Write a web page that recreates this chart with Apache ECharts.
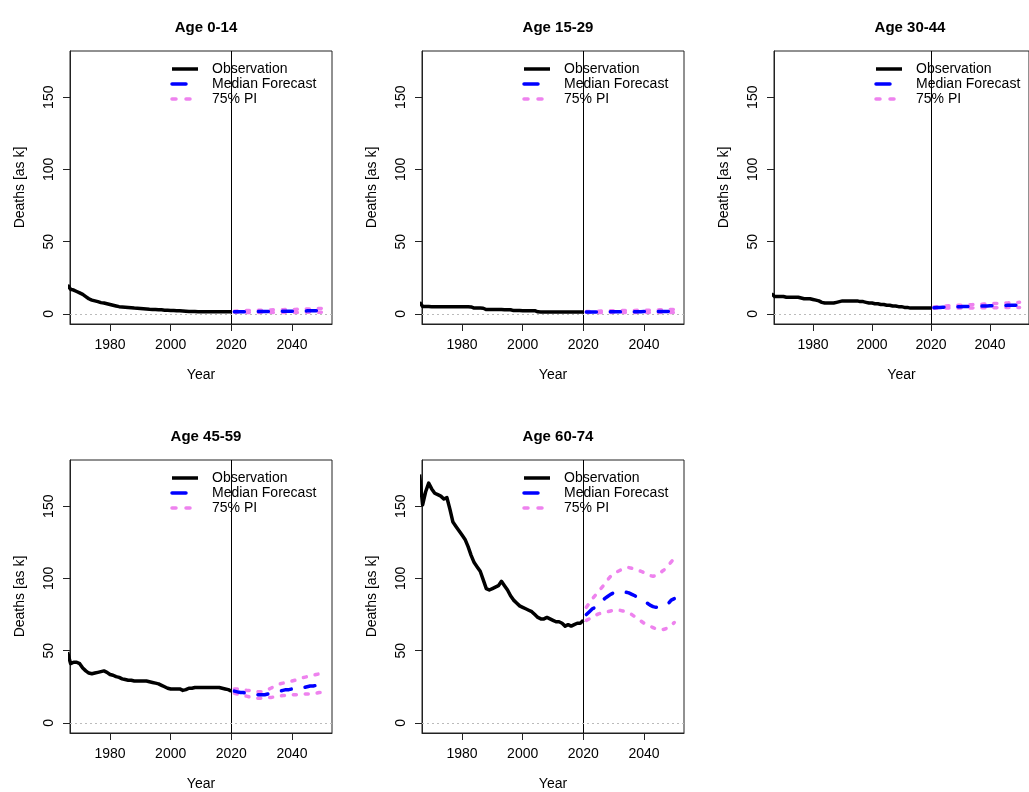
<!DOCTYPE html>
<html>
<head>
<meta charset="utf-8">
<title>Deaths by age group</title>
<script src="https://cdn.jsdelivr.net/npm/echarts@6.0.0/dist/echarts.min.js"></script>
<style>
html,body{margin:0;padding:0;background:#fff;}
#container{width:1029px;height:792px;}
</style>
</head>
<body>
<div id="container"></div>
<script>
// panel titles
var ageGroups = ['Age 0-14', 'Age 15-29', 'Age 30-44', 'Age 45-59', 'Age 60-74'];
var legendNames = ['Observation', 'Median Forecast', '75% PI'];
var xTicks = [1980, 2000, 2020, 2040];
var yTicks = [0, 50, 100, 150];

// observed deaths (thousands), 1966-2020
var obs0_14 = [20, 17, 16.5, 15.5, 14.5, 13.5, 12, 10.5, 9.5, 9,
	8.5, 7.8, 7.5, 7, 6.5, 6, 5.5, 5, 4.8, 4.6,
	4.4, 4.2, 4, 3.9, 3.8, 3.6, 3.4, 3.2, 3.1, 3,
	2.9, 2.8, 2.6, 2.5, 2.4, 2.3, 2.2, 2.1, 2, 1.8,
	1.6, 1.6, 1.6, 1.5, 1.5, 1.5, 1.5, 1.5, 1.5, 1.5,
	1.5, 1.5, 1.5, 1.5, 1.5];
var obs15_29 = [8, 5.2, 5.1, 5.1, 5, 5, 5, 5, 5, 5,
	5, 5, 5, 5, 5, 4.9, 4.9, 4.8, 4, 4,
	4, 3.9, 3, 3, 3, 3, 3, 3, 2.9, 2.9,
	2.9, 2.3, 2.3, 2.3, 2.2, 2.2, 2.2, 2.2, 2.2, 1.4,
	1.3, 1.3, 1.3, 1.3, 1.3, 1.3, 1.3, 1.3, 1.3, 1.3,
	1.3, 1.3, 1.3, 1.3, 1.3];
var obs30_44 = [14, 12, 12, 12, 12, 11.5, 11.5, 11.5, 11.5, 11.5,
	11, 10.5, 10.5, 10.5, 10, 9.5, 9, 8, 7.5, 7.5,
	7.5, 7.5, 8, 8.5, 9, 9, 9, 9, 9, 9,
	8.5, 8.5, 8, 7.5, 7.5, 7, 7, 6.5, 6.5, 6,
	6, 5.5, 5.5, 5, 5, 4.5, 4.5, 4, 4, 4,
	4, 4, 4, 4, 4];
var obs45_59 = [49, 41, 42, 42, 41, 38, 36, 34.5, 34, 34.5,
	35, 35.5, 36, 35, 33.5, 33, 32, 31.5, 30.5, 30,
	29.5, 29.5, 29, 29, 29, 29, 29, 28.5, 28, 27.5,
	27, 26, 25, 24, 23.5, 23.5, 23.5, 23.5, 22.5, 23,
	24, 24, 24.5, 24.5, 24.5, 24.5, 24.5, 24.5, 24.5, 24.5,
	24.5, 24, 23.5, 23, 22];
var obs60_74 = [172, 151, 160, 166, 162, 159, 158, 157, 155, 156,
	148, 139, 136, 133, 130, 127, 122, 116, 111, 108,
	105, 99, 93, 92, 93, 94, 95, 98, 95, 92,
	88, 85, 83, 81, 80, 79, 78, 77, 75, 73,
	72, 72, 73, 72, 71, 70, 70, 69, 67, 68,
	67, 68, 69, 69, 71];

// forecasts 2021-2050: median, upper and lower 75% PI
var med0_14 = [1.5, 1.5, 1.5, 1.5, 1.5, 1.5, 1.6, 1.6, 1.6, 1.6, 1.7, 1.7, 1.7, 1.7, 1.8, 1.8, 1.8, 1.8, 1.9, 1.9, 1.9, 2.0, 2.0, 2.0, 2.1, 2.1, 2.2, 2.2, 2.3, 2.3];
var up0_14 = [1.9, 2.0, 2.1, 2.2, 2.3, 2.3, 2.4, 2.5, 2.5, 2.6, 2.6, 2.7, 2.7, 2.8, 2.8, 2.9, 2.9, 3.0, 3.0, 3.1, 3.1, 3.2, 3.2, 3.3, 3.4, 3.4, 3.5, 3.6, 3.7, 3.8];
var lo0_14 = [1.2, 1.1, 1.1, 1.1, 1.0, 1.0, 1.0, 1.0, 1.0, 1.0, 1.0, 1.0, 1.0, 1.0, 1.0, 1.0, 1.0, 1.0, 1.0, 1.0, 1.0, 1.0, 1.1, 1.1, 1.1, 1.1, 1.1, 1.1, 1.2, 1.2];

var med15_29 = [1.3, 1.3, 1.3, 1.3, 1.3, 1.4, 1.4, 1.4, 1.4, 1.4, 1.4, 1.4, 1.5, 1.5, 1.5, 1.5, 1.5, 1.5, 1.5, 1.6, 1.6, 1.6, 1.6, 1.6, 1.7, 1.7, 1.7, 1.7, 1.8, 1.8];
var up15_29 = [1.6, 1.7, 1.8, 1.9, 1.9, 2, 2, 2.1, 2.1, 2.2, 2.2, 2.2, 2.3, 2.3, 2.3, 2.4, 2.4, 2.5, 2.5, 2.5, 2.6, 2.6, 2.7, 2.7, 2.8, 2.8, 2.9, 2.9, 3, 3];
var lo15_29 = [1.1, 1.0, 1.0, 1.0, 1.0, 0.9, 0.9, 0.9, 0.9, 0.9, 0.9, 0.9, 0.9, 0.9, 0.9, 0.9, 0.9, 0.9, 0.9, 0.9, 0.9, 0.9, 0.9, 0.9, 0.9, 0.9, 0.9, 0.9, 0.9, 0.9];

var med30_44 = [4.3, 4.4, 4.5, 4.6, 4.7, 4.7, 4.8, 4.9, 5, 5, 5.1, 5.2, 5.2, 5.3, 5.3, 5.4, 5.4, 5.5, 5.5, 5.6, 5.6, 5.7, 5.7, 5.8, 5.8, 5.9, 5.9, 6, 6, 6.1];
var up30_44 = [4.8, 5, 5.2, 5.3, 5.5, 5.6, 5.7, 5.8, 5.9, 6, 6.1, 6.2, 6.3, 6.4, 6.5, 6.6, 6.7, 6.8, 6.9, 7, 7.1, 7.2, 7.3, 7.4, 7.5, 7.6, 7.7, 7.8, 7.9, 8];
var lo30_44 = [3.9, 3.9, 3.9, 3.9, 4, 4, 4, 4, 4, 4, 4.1, 4.1, 4.1, 4.1, 4.2, 4.2, 4.2, 4.2, 4.3, 4.3, 4.3, 4.3, 4.4, 4.4, 4.4, 4.4, 4.5, 4.5, 4.5, 4.5];

var med45_59 = [22, 21.5, 21, 21, 20.5, 20, 19.5, 19.5, 19.5, 19.5, 19.5, 20, 20.5, 21, 21.5, 22, 22.5, 23, 23, 23.5, 23.5, 24, 24, 24.5, 25, 25.5, 25.5, 26, 26, 26];
var up45_59 = [23.5, 23.5, 23, 23, 22.5, 22.5, 22, 22, 21.5, 21.5, 22, 23, 24, 25, 26, 27, 27.5, 28, 28.5, 29, 29.5, 30, 31, 31.5, 32, 32.5, 33, 33.5, 34, 34.5];
var lo45_59 = [20.5, 20, 19.5, 19, 18.5, 18, 17.5, 17, 17, 17, 17, 17.5, 17.5, 18, 18.5, 18.5, 19, 19, 19, 19.5, 19.5, 19.5, 19.5, 20, 20, 20, 20.5, 20.5, 21, 21];

var med60_74 = [75, 77, 79, 80, 82, 84, 86, 87.5, 89, 90, 90.5, 91, 91, 90.5, 90, 89, 88, 86.5, 85, 84, 83, 81.5, 80.5, 80, 80, 80.5, 81, 82.5, 85, 86];
var up60_74 = [80, 83, 86, 88.5, 91, 93.5, 96, 99, 101.5, 103, 104.5, 105.5, 106.5, 107.5, 107.5, 107, 106.5, 105.5, 105, 104, 103, 102, 101.5, 102, 103, 105, 106.5, 109, 111.5, 114];
var lo60_74 = [71, 72, 73, 74.5, 75.5, 76, 76.5, 77, 77.5, 78, 78, 78, 77.5, 77, 76, 75, 73.5, 72, 70.5, 69, 68, 67, 66, 65, 64.5, 64.5, 65, 66, 67.5, 69.5];

var obsAll = [obs0_14, obs15_29, obs30_44, obs45_59, obs60_74];
var medAll = [med0_14, med15_29, med30_44, med45_59, med60_74];
var upAll = [up0_14, up15_29, up30_44, up45_59, up60_74];
var loAll = [lo0_14, lo15_29, lo30_44, lo45_59, lo60_74];

var obsStart = 1966, fcStart = 2021;

// panel boxes (pixels)
var panelLeft = [70, 422, 774, 70, 422];
var panelTop = [51, 51, 51, 460, 460];
var panelW = 262, panelH = 273;

var font = "'Liberation Sans', Arial, sans-serif";
var black = '#000', blue = '#0000ff', violet = '#ee82ee';

function pairs(start, vals) {
	var out = [];
	for (var i = 0; i < vals.length; i++) {
		out.push([start + i, vals[i]]);
	}
	return out;
}

function plain(v) {
	return String(v);
}

window.onload = function () {
	var dom = document.getElementById("container");
	var myChart = echarts.init(dom, null, {renderer: 'canvas'});
	var grids = [], xAxes = [], yAxes = [], series = [], titles = [], graphics = [];

	for (var p = 0; p < ageGroups.length; p++) {
		var L = panelLeft[p], T = panelTop[p];
		grids.push({
			left: L, top: T, width: panelW, height: panelH,
			show: true, borderColor: '#222', borderWidth: 1, backgroundColor: 'transparent'
		});
		titles.push({
			text: ageGroups[p], left: L + panelW / 2, top: T - 36, textAlign: 'center',
			textStyle: {fontFamily: font, fontSize: 15, fontWeight: 'bold', color: '#000'}
		});
		xAxes.push({
			gridIndex: p, type: 'value', min: 1966.8, max: 2053.2,
			splitLine: {show: false},
			axisLine: {show: true, onZero: false, lineStyle: {color: '#222', width: 1}},
			axisTick: {show: true, customValues: xTicks, length: 7, lineStyle: {color: '#222'}},
			axisLabel: {customValues: xTicks, formatter: plain, margin: 14, color: '#000', fontSize: 14, fontFamily: font},
			name: 'Year', nameLocation: 'middle', nameGap: 44,
			nameTextStyle: {color: '#000', fontSize: 14, fontFamily: font}
		});
		yAxes.push({
			gridIndex: p, type: 'value', min: -7, max: 182,
			splitLine: {show: false},
			axisLine: {show: true, onZero: false, lineStyle: {color: '#222', width: 1}},
			axisTick: {show: true, customValues: yTicks, length: 7, lineStyle: {color: '#222'}},
			axisLabel: {customValues: yTicks, formatter: plain, rotate: 90, margin: 14, color: '#000', fontSize: 14, fontFamily: font},
			name: 'Deaths [as k]', nameLocation: 'middle', nameGap: 43, nameRotate: 90,
			nameTextStyle: {color: '#000', fontSize: 14, fontFamily: font}
		});

		series.push({
			name: 'Observation', type: 'line', xAxisIndex: p, yAxisIndex: p,
			data: pairs(obsStart, obsAll[p]), symbol: 'none', z: 4,
			lineStyle: {color: black, width: 3.5, join: 'round'},
			markLine: {
				silent: true, symbol: ['none', 'none'], label: {show: false},
				data: [
					{xAxis: 2020, lineStyle: {color: '#000', width: 1, type: 'solid'}},
					{yAxis: 0, lineStyle: {color: '#bbb', width: 1, type: [2, 3]}}
				]
			}
		});
		series.push({
			name: 'Median Forecast', type: 'line', xAxisIndex: p, yAxisIndex: p,
			data: pairs(fcStart, medAll[p]), symbol: 'none', z: 5,
			lineStyle: {color: blue, width: 3.5, type: [10, 14], cap: 'round'}
		});
		series.push({
			name: '75% PI', type: 'line', xAxisIndex: p, yAxisIndex: p,
			data: pairs(fcStart, upAll[p]), symbol: 'none', z: 3,
			lineStyle: {color: violet, width: 3.5, type: [3, 9], cap: 'round'}
		});
		series.push({
			name: '75% PI', type: 'line', xAxisIndex: p, yAxisIndex: p,
			data: pairs(fcStart, loAll[p]), symbol: 'none', z: 3,
			lineStyle: {color: violet, width: 3.5, type: [3, 9], cap: 'round'}
		});

		// legend (bty = "n") inside the top of each panel
		var legendLines = [
			{x2: 128, style: {stroke: black, lineWidth: 3.5}},
			{x2: 128, style: {stroke: blue, lineWidth: 3.5, lineDash: [14, 20], lineCap: 'round'}},
			{x2: 122, style: {stroke: violet, lineWidth: 3.5, lineDash: [4, 10], lineCap: 'round'}}
		];
		for (var k = 0; k < legendNames.length; k++) {
			var ly = T + 18 + k * 15;
			graphics.push({
				type: 'line', z: 10,
				shape: {x1: L + 102, y1: ly, x2: L + legendLines[k].x2, y2: ly},
				style: legendLines[k].style
			});
			graphics.push({
				type: 'text', z: 10, x: L + 142, y: ly,
				style: {text: legendNames[k], fill: '#000', font: '14px ' + font, verticalAlign: 'middle'}
			});
		}
	}

	var option = {
		backgroundColor: '#fff',
		animation: false,
		title: titles,
		grid: grids,
		xAxis: xAxes,
		yAxis: yAxes,
		series: series,
		graphic: graphics
	};
	if (option && typeof option === "object") {
		myChart.setOption(option, true);
	}
};
</script>
</body>
</html>
